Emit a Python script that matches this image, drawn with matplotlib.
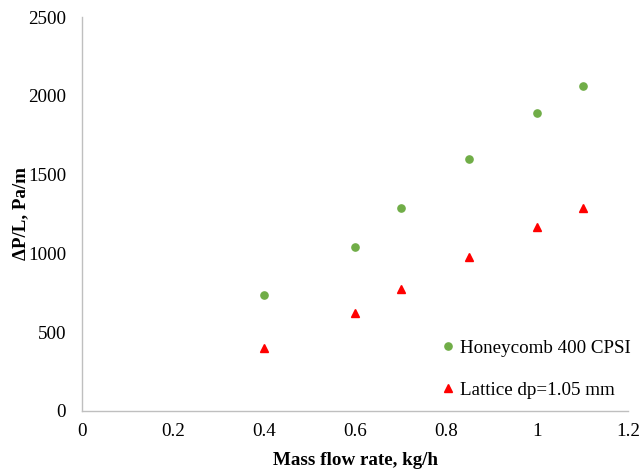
import matplotlib.pyplot as plt

# data
mass_flow = [0.4, 0.6, 0.7, 0.85, 1.0, 1.1]
dp_honeycomb = [735, 1040, 1288, 1597, 1890, 2062]
dp_lattice = [400, 622, 773, 975, 1165, 1288]

x_ticks = [0, 0.2, 0.4, 0.6, 0.8, 1, 1.2]
x_tick_labels = ["0", "0.2", "0.4", "0.6", "0.8", "1", "1.2"]
y_ticks = [0, 500, 1000, 1500, 2000, 2500]

green = "#70AD47"
red = "#FF0000"
axis_gray = "#BFBFBF"

plt.rcParams["font.family"] = ["Liberation Serif", "DejaVu Serif"]

fig = plt.figure(figsize=(6.43, 4.71), dpi=100)
ax = fig.add_axes([0.1275, 0.1274, 0.8492, 0.8365])

ax.plot(mass_flow, dp_honeycomb, linestyle="none", marker="o",
        markersize=5.2, color=green, label="Honeycomb 400 CPSI")
ax.plot(mass_flow, dp_lattice, linestyle="none", marker="^",
        markersize=5.4, color=red, label="Lattice dp=1.05 mm")

ax.set_xlim(0, 1.2)
ax.set_ylim(0, 2500)
ax.set_xticks(x_ticks)
ax.set_xticklabels(x_tick_labels)
ax.set_yticks(y_ticks)

for side in ["top", "right"]:
    ax.spines[side].set_visible(False)
for side in ["left", "bottom"]:
    ax.spines[side].set_color(axis_gray)
    ax.spines[side].set_linewidth(1.0)

ax.tick_params(length=0, labelsize=13.7, colors="#000000")
ax.tick_params(axis="x", pad=9)
ax.tick_params(axis="y", pad=11.5)

ax.set_xlabel("Mass flow rate, kg/h", fontsize=13.7, fontweight="bold", labelpad=8)
ax.set_ylabel("\u0394P/L, Pa/m", fontsize=13.7, fontweight="bold", labelpad=-1)

ax.legend(loc="upper left", bbox_to_anchor=(0.688, 0.279),
          bbox_transform=fig.transFigure, frameon=False, fontsize=13.7,
          handlelength=0.6, handletextpad=0.3, labelspacing=1.3,
          borderpad=0, borderaxespad=0)

plt.savefig("out.png", dpi=100)
